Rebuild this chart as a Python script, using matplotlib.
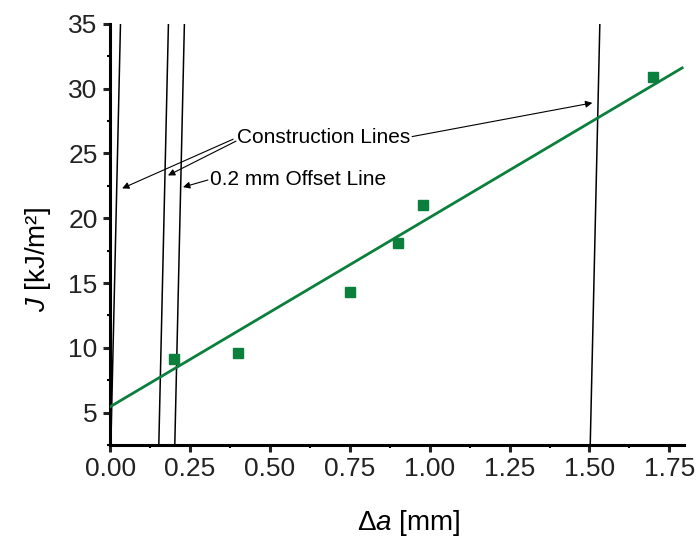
import numpy as np
import matplotlib
matplotlib.use("Agg")
import matplotlib.pyplot as plt

# measured points (crack extension vs J)
da = [0.20, 0.40, 0.75, 0.90, 0.98, 1.70]
J = [9.1, 9.6, 14.3, 18.1, 21.0, 30.9]

# fitted regression line
fit_x = [0.0, 1.79]
fit_y = [5.45, 31.6]

# construction lines: x offsets (mm) at J = 0, blunting slope
construction_offsets = [0.0, 0.15, 1.50]
offset_line = 0.20
blunt_slope = 1080.0  # kJ/m^2 per mm

x_ticks = [0.00, 0.25, 0.50, 0.75, 1.00, 1.25, 1.50, 1.75]
y_ticks = [5, 10, 15, 20, 25, 30, 35]

green = "#0b7f3c"

plt.rcParams["font.family"] = ["Liberation Sans", "DejaVu Sans"]
plt.rcParams["mathtext.fontset"] = "custom"
plt.rcParams["mathtext.rm"] = "Liberation Sans"
plt.rcParams["mathtext.it"] = "Liberation Sans:italic"


def main():
    fig = plt.figure(figsize=(6.97, 5.42), dpi=100)
    ax = fig.add_axes([0.158, 0.179, 0.823, 0.777])

    ymin, ymax = 2.5, 35
    j_line = np.array([ymin, ymax])
    for off in construction_offsets + [offset_line]:
        ax.plot(off + j_line / blunt_slope, j_line, color="black", lw=1.1, zorder=2)

    ax.plot(fit_x, fit_y, color=green, lw=2.0, zorder=3)
    ax.plot(da, J, "s", color=green, ms=6.5, zorder=4)

    ax.set_xlim(0, 1.795)
    ax.set_ylim(ymin, ymax)
    ax.set_xticks(x_ticks)
    ax.set_xticklabels([f"{t:.2f}" for t in x_ticks])
    ax.set_yticks(y_ticks)
    ax.set_xticks(np.arange(0.125, 1.8, 0.25), minor=True)
    ax.set_yticks(np.arange(2.5, 35, 5), minor=True)

    for s in ["top", "right"]:
        ax.spines[s].set_visible(False)
    for s in ["left", "bottom"]:
        ax.spines[s].set_linewidth(2.2)
    ax.tick_params(which="major", direction="out", length=5, width=2.2,
                   labelsize=19, pad=4, colors="#222222")
    ax.tick_params(which="minor", direction="out", length=2, width=1.5)

    ax.set_xlabel(r"$\Delta\mathit{a}$ [mm]", fontsize=20)
    ax.set_ylabel(r"$J$ [kJ/m²]", fontsize=20)
    ax.xaxis.set_label_coords(0.52, -0.15)
    ax.yaxis.set_label_coords(-0.10, 0.44)

    # annotation texts
    ax.text(0.398, 26.25, "Construction Lines", fontsize=15, ha="left", va="center")
    ax.text(0.3125, 22.95, "0.2 mm Offset Line", fontsize=15, ha="left", va="center")

    # arrows (tip, tail) in data coordinates
    arrows = [
        ((0.0375, 22.3), (0.385, 26.1)),
        ((0.181, 23.3), (0.394, 25.95)),
        ((1.509, 28.9), (0.945, 26.3)),
        ((0.228, 22.4), (0.306, 22.95)),
    ]
    for tip, tail in arrows:
        ax.annotate("", xy=tip, xytext=tail,
                    arrowprops=dict(arrowstyle="-|>", color="black", lw=0.8,
                                    mutation_scale=10, shrinkA=0, shrinkB=0))

    fig.savefig("out.png", dpi=100)


if __name__ == "__main__":
    main()
